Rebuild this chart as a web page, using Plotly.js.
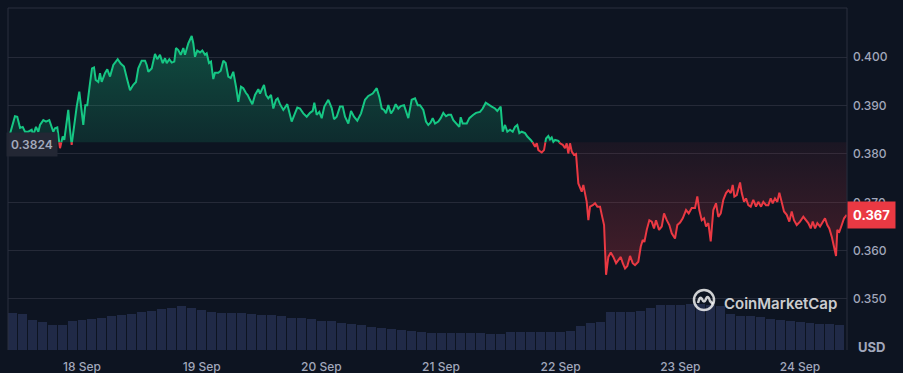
<!DOCTYPE html>
<html><head><meta charset="utf-8">
<script src="https://cdn.plot.ly/plotly-3.0.1.min.js"></script>
<style>html,body{margin:0;padding:0;background:#0d1421;}#chart{width:903px;height:373px;}</style>
</head><body><div id="chart"></div>
<script>
// hours relative to 18 Sep 00:00
const priceHours = [-14.94,-14.44,-13.94,-13.44,-12.98,-12.43,-11.89,-11.43,-10.77,-10.09,-9.77,-9.23,-8.76,-8.42,-7.76,-7.22,-6.56,-6.08,-5.76,-5.42,-4.95,-4.41,-3.87,-3.55,-3.11,-2.75,-2.41,-2.07,-1.60,-1.06,-0.54,-0.20,0.26,0.66,1.06,1.60,2.01,2.41,2.75,3.27,3.61,3.95,4.61,5.07,5.62,6.28,7.16,7.76,8.42,9.09,9.63,10.29,10.83,11.29,11.97,12.64,12.98,13.30,13.98,14.64,15.10,15.64,16.19,16.65,16.99,17.51,17.99,18.51,18.85,19.31,19.80,20.32,20.66,21.32,22.00,22.32,22.66,23.12,23.67,24.13,24.67,25.01,25.47,25.87,26.33,26.67,27.34,27.82,28.34,28.82,29.34,29.82,30.34,30.89,31.35,31.89,32.35,32.89,33.23,33.69,34.16,34.70,35.36,35.70,36.50,36.90,37.36,37.91,38.37,38.91,39.25,39.71,40.37,41.17,41.51,42.05,42.71,43.18,43.72,44.38,45.07,45.73,46.27,46.59,47.07,47.59,48.07,48.60,49.40,50.08,50.54,51.08,51.74,52.29,52.75,53.41,53.95,54.55,55.21,55.96,56.76,57.42,58.30,59.11,59.63,60.11,60.57,60.97,61.43,61.97,62.43,62.91,63.44,63.92,64.58,65.44,66.12,66.79,67.33,67.79,68.45,68.99,69.45,69.93,70.33,70.80,71.46,71.94,72.46,73.00,73.46,74.01,74.47,75.01,75.67,75.95,76.35,77.16,77.68,78.48,79.02,79.82,80.36,80.97,81.63,82.17,82.83,83.29,83.97,84.37,84.84,85.30,85.84,86.38,86.84,87.30,87.71,88.19,88.85,89.31,89.99,90.52,90.86,91.20,91.52,92.20,92.66,93.06,93.52,93.86,94.20,94.53,94.87,95.53,95.87,96.41,96.87,97.21,97.53,97.87,98.22,98.68,99.08,99.54,99.88,100.22,100.54,100.88,101.22,101.55,101.89,102.43,102.89,103.35,103.89,104.24,104.70,105.10,105.56,106.04,106.56,107.11,107.57,108.05,108.45,108.91,109.37,109.91,110.45,110.91,111.57,112.05,112.45,112.78,113.26,113.78,114.26,114.72,115.12,115.72,116.27,116.73,117.27,117.79,118.27,118.93,119.39,119.94,120.48,121.14,121.68,122.28,122.94,123.40,123.80,124.29,124.75,125.15,125.61,126.09,126.61,127.15,127.61,128.10,128.62,129.16,129.62,130.10,130.50,130.83,131.31,131.97,132.31,132.77,133.17,133.63,134.11,134.63,135.17,135.63,136.18,136.64,137.18,137.64,138.12,138.52,138.98,139.45,139.85,140.33,140.79,141.33,141.85,142.33,142.79,143.34,144.00,144.66,145.20,145.66,146.15,146.55,147.01,147.47,148.01,148.55,149.01,149.47,149.87,150.36,150.82,151.22,151.48,151.88,152.37,152.83,153.37];
const priceValues = [0.3823,0.3843,0.3862,0.3878,0.3877,0.3854,0.3856,0.3846,0.3846,0.3850,0.3839,0.3856,0.3846,0.3860,0.3870,0.3867,0.3870,0.3856,0.3846,0.3853,0.3855,0.3812,0.3836,0.3829,0.3860,0.3891,0.3850,0.3819,0.3860,0.3898,0.3929,0.3898,0.3860,0.3901,0.3901,0.3946,0.3977,0.3979,0.3953,0.3949,0.3967,0.3949,0.3967,0.3975,0.3960,0.3984,0.3996,0.3987,0.3981,0.3953,0.3932,0.3943,0.3949,0.3977,0.3993,0.3993,0.3984,0.3970,0.3977,0.4007,0.3996,0.4005,0.3988,0.3998,0.3988,0.3996,0.3989,0.3991,0.4019,0.4015,0.4005,0.4019,0.4005,0.4029,0.4044,0.4029,0.4001,0.4014,0.4010,0.4014,0.4005,0.4008,0.3988,0.3991,0.3955,0.3968,0.3968,0.3972,0.3993,0.3988,0.3960,0.3957,0.3970,0.3939,0.3908,0.3939,0.3936,0.3926,0.3922,0.3912,0.3903,0.3922,0.3934,0.3925,0.3943,0.3922,0.3915,0.3922,0.3894,0.3912,0.3915,0.3903,0.3891,0.3903,0.3887,0.3867,0.3884,0.3896,0.3894,0.3884,0.3877,0.3885,0.3889,0.3906,0.3881,0.3887,0.3874,0.3898,0.3912,0.3895,0.3872,0.3877,0.3898,0.3898,0.3877,0.3863,0.3889,0.3877,0.3869,0.3884,0.3912,0.3920,0.3925,0.3936,0.3918,0.3894,0.3891,0.3884,0.3901,0.3884,0.3891,0.3903,0.3894,0.3899,0.3901,0.3874,0.3912,0.3915,0.3901,0.3901,0.3891,0.3867,0.3860,0.3865,0.3874,0.3863,0.3867,0.3874,0.3885,0.3878,0.3881,0.3881,0.3870,0.3863,0.3856,0.3876,0.3863,0.3863,0.3874,0.3881,0.3885,0.3887,0.3894,0.3906,0.3901,0.3898,0.3894,0.3889,0.3898,0.3846,0.3860,0.3846,0.3850,0.3846,0.3856,0.3860,0.3843,0.3846,0.3843,0.3836,0.3829,0.3822,0.3815,0.3822,0.3808,0.3803,0.3808,0.3832,0.3837,0.3830,0.3834,0.3825,0.3829,0.3827,0.3822,0.3819,0.3812,0.3822,0.3801,0.3822,0.3805,0.3798,0.3800,0.3739,0.3729,0.3722,0.3736,0.3719,0.3701,0.3663,0.3691,0.3694,0.3698,0.3691,0.3691,0.3674,0.3653,0.3550,0.3587,0.3596,0.3587,0.3574,0.3581,0.3587,0.3574,0.3563,0.3568,0.3589,0.3574,0.3570,0.3577,0.3608,0.3622,0.3618,0.3643,0.3663,0.3660,0.3646,0.3663,0.3643,0.3650,0.3677,0.3663,0.3653,0.3636,0.3625,0.3653,0.3658,0.3667,0.3684,0.3677,0.3688,0.3688,0.3712,0.3684,0.3663,0.3667,0.3650,0.3657,0.3619,0.3684,0.3698,0.3670,0.3677,0.3705,0.3719,0.3725,0.3719,0.3736,0.3712,0.3715,0.3741,0.3719,0.3701,0.3708,0.3694,0.3691,0.3705,0.3691,0.3701,0.3691,0.3701,0.3694,0.3694,0.3708,0.3698,0.3708,0.3701,0.3720,0.3701,0.3681,0.3674,0.3660,0.3681,0.3663,0.3653,0.3660,0.3670,0.3663,0.3657,0.3646,0.3660,0.3646,0.3657,0.3650,0.3660,0.3667,0.3653,0.3646,0.3629,0.3608,0.3589,0.3643,0.3639,0.3653,0.3667,0.3674];
const baseline = 0.3824;
const volumeHours = [-14,-12,-10,-8,-6,-4,-2,0,2,4,6,8,10,12,14,16,18,20,22,24,26,28,30,32,34,36,38,40,42,44,46,48,50,52,54,56,58,60,62,64,66,68,70,72,74,76,78,80,82,84,86,88,90,92,94,96,98,100,102,104,106,108,110,112,114,116,118,120,122,124,126,128,130,132,134,136,138,140,142,144,146,148,150,152];
const volumeValues = [37.3,36.5,30.5,28.5,25.3,25,29.5,30.5,31.3,32.5,34,35,36.5,38,39,41,42.5,44,42,40,38.5,37,37,37,36.5,35.5,35,34.5,32.5,32.3,30.7,29.5,29,27.5,26.5,25.5,23,22,20.7,20,19,18,17,17,16.7,16.7,16.7,16.7,16.3,16.5,17.7,18,18.3,18,18,17.7,19,24.5,27,28,38,38,38.5,39.5,42,44.7,45,45,46,46.5,45.5,44,36,34.5,34,33,31.5,30,29,28.5,27.5,26.5,26,25.5];
const dayTicks = ['2023-09-18','2023-09-19','2023-09-20','2023-09-21','2023-09-22','2023-09-23','2023-09-24'];
const dayLabels = ['18 Sep','19 Sep','20 Sep','21 Sep','22 Sep','23 Sep','24 Sep'];
const yTicks = [0.350,0.360,0.370,0.380,0.390,0.400];
const unitLabel = 'USD';
const brandText = 'CoinMarketCap';

if (priceHours.length !== priceValues.length) throw new Error('len mismatch '+priceHours.length+' '+priceValues.length);
if (volumeHours.length !== volumeValues.length) throw new Error('vol len mismatch');

const t0 = Date.UTC(2023, 8, 18);
const toDate = h => new Date(t0 + h * 3600000).toISOString().replace('T', ' ').replace('Z', '');

// insert baseline crossings so colours split exactly at the baseline
const mh = [], mv = [];
for (let i = 0; i < priceHours.length; i++) {
  if (i > 0) {
    const a = priceValues[i-1], b = priceValues[i];
    if ((a - baseline) * (b - baseline) < 0) {
      const f = (baseline - a) / (b - a);
      mh.push(priceHours[i-1] + f * (priceHours[i] - priceHours[i-1]));
      mv.push(baseline);
    }
  }
  mh.push(priceHours[i]); mv.push(priceValues[i]);
}
const mx = mh.map(toDate);
const GREEN = '#16c784', RED = '#ea3943';

const traces = [
  {type:'bar', x: volumeHours.map(toDate), y: volumeValues, yaxis:'y2', width: 2*3600000*0.9,
   marker:{color:'#202a47', line:{width:0}}, hoverinfo:'skip'},
  {type:'scatter', mode:'lines', x: mx, y: mx.map(()=>baseline), line:{width:0}, hoverinfo:'skip'},
  {type:'scatter', mode:'lines', x: mx, y: mv.map(v=>Math.max(v,baseline)), line:{width:0}, fill:'tonexty',
   fillgradient:{type:'vertical', start: baseline, stop: 0.4044,
     colorscale:[[0,'rgba(22,199,132,0.13)'],[1,'rgba(22,199,132,0.32)']]}, hoverinfo:'skip'},
  {type:'scatter', mode:'lines', x: mx, y: mx.map(()=>baseline), line:{width:0}, hoverinfo:'skip'},
  {type:'scatter', mode:'lines', x: mx, y: mv.map(v=>Math.min(v,baseline)), line:{width:0}, fill:'tonexty',
   fillgradient:{type:'vertical', start: 0.3550, stop: baseline,
     colorscale:[[0,'rgba(234,57,67,0.26)'],[1,'rgba(234,57,67,0.06)']]}, hoverinfo:'skip'},
  {type:'scatter', mode:'lines', x: mx, y: mv.map(v=> v>=baseline ? v : null), line:{color:GREEN, width:2}, hoverinfo:'skip'},
  {type:'scatter', mode:'lines', x: mx, y: mv.map(v=> v<=baseline ? v : null), line:{color:RED, width:2}, hoverinfo:'skip'}
];

const border = '#2a2f3e';
const logoX = (704-8)/839, logoY = (350-300)/342;
const wm = 'rgba(255,255,255,0.8)';
const last = priceValues[priceValues.length-1];

const layout = {
  width:903, height:373,
  paper_bgcolor:'#0d1421', plot_bgcolor:'#0d1421',
  margin:{l:8, r:56, t:8, b:23},
  showlegend:false,
  font:{family:'Inter, "Noto Sans", sans-serif', color:'#a1a7bb', size:12},
  bargap:0,
  xaxis:{type:'date', range:[toDate(-14.84), toDate(153.42)], tickvals: dayTicks, ticktext: dayLabels,
    showgrid:false, zeroline:false, showline:false, ticks:'', ticklabelstandoff:8,
    tickfont:{size:12, color:'#a1a7bb', weight:500}},
  yaxis:{side:'right', range:[0.33945, 0.41019], tickvals:yTicks, ticktext: yTicks.map(v=>v.toFixed(3)),
    showgrid:true, gridcolor:'#252a38', gridwidth:1, zeroline:false, showline:false, ticks:'', ticklabelstandoff:5,
    tickfont:{size:12, color:'#a1a7bb', weight:500}},
  yaxis2:{overlaying:'y', range:[0, 342], visible:false, showgrid:false},
  shapes:[
    {type:'line', xref:'paper', yref:'paper', x0:0, x1:1, y0:1, y1:1, line:{color:border, width:1}},
    {type:'line', xref:'paper', yref:'paper', x0:0, x1:0, y0:0, y1:1, line:{color:border, width:1}},
    {type:'line', xref:'paper', yref:'paper', x0:1, x1:1, y0:0, y1:1, line:{color:border, width:1}},
    {type:'circle', xref:'paper', yref:'paper', xsizemode:'pixel', ysizemode:'pixel', xanchor:logoX, yanchor:logoY,
      x0:-10, x1:10, y0:-10, y1:10, line:{color:wm, width:2.5}},
    {type:'path', xref:'paper', yref:'paper', xsizemode:'pixel', ysizemode:'pixel', xanchor:logoX, yanchor:logoY,
      path:'M -6,-3 Q -4,5 -2,1 Q 0,-4 2,1 Q 4,6 6,-1 L 9,-4', line:{color:wm, width:2.5}}
  ],
  annotations:[
    {xref:'paper', yref:'y', x:(32-8)/839, y:baseline, xanchor:'center', yanchor:'middle', yshift:-2,
      text: baseline.toFixed(4), showarrow:false, bgcolor:'#232734', borderpad:4,
      font:{size:12, color:'#a3a9bc', weight:600}},
    {xref:'paper', yref:'y', x:1, y:last, xanchor:'left', yanchor:'middle',
      text: last.toFixed(3), showarrow:false, bgcolor:RED, borderpad:5,
      font:{size:13, color:'#ffffff', weight:700}},
    {xref:'paper', yref:'paper', x:(871-8)/839, y:(350-347)/342, xanchor:'center', yanchor:'middle',
      text: unitLabel, showarrow:false, font:{size:13, color:'#a1a7bb', weight:700}},
    {xref:'paper', yref:'paper', x:(722-8)/839, y:(350-303)/342, xanchor:'left', yanchor:'middle',
      text: brandText, showarrow:false, font:{size:15, color:wm, weight:600}}
  ]
};

Plotly.newPlot('chart', traces, layout, {staticPlot:true, displayModeBar:false});
</script>
</body></html>
